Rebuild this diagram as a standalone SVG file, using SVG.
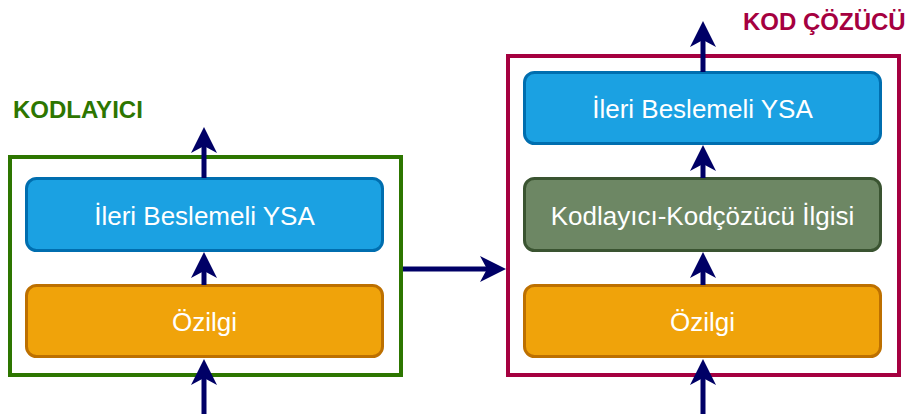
<svg xmlns="http://www.w3.org/2000/svg" width="911" height="414" viewBox="0 0 911 414">
  <style>
    .frame { fill: #ffffff; stroke-width: 4; }
    .box { stroke-width: 3; }
    .ffn { fill: #1BA1E2; stroke: #006EAF; }
    .att { fill: #F0A30A; stroke: #BD7000; }
    .xatt { fill: #6D8764; stroke: #3A5431; }
    .lbl { font-family: "Liberation Sans", Arial, sans-serif; font-size: 26px; fill: #ffffff; text-anchor: middle; }
    .title { font-family: "Liberation Sans", Arial, sans-serif; font-size: 24px; font-weight: bold; }
    .link { stroke: #000066; stroke-width: 5; fill: none; marker-end: url(#head); }
  </style>
  <defs>
    <marker id="head" markerUnits="userSpaceOnUse" markerWidth="26" markerHeight="26" viewBox="0 0 26 26" refX="10" refY="13" orient="auto">
      <path d="M0,0 L26,13 L0,26 L7,13 Z" fill="#000066"/>
    </marker>
  </defs>

  <!-- encoder block -->
  <g id="encoder">
    <rect class="frame" x="10" y="157" width="391" height="218" stroke="#2D7600"/>
    <text class="title" x="13" y="118" fill="#2D7600">KODLAYICI</text>
  </g>
  <g id="enc-ffn">
    <rect class="box ffn" x="26.5" y="178.5" width="356" height="72" rx="10"/>
    <text class="lbl" x="204.5" y="225">İleri Beslemeli YSA</text>
  </g>
  <g id="enc-attn">
    <rect class="box att" x="26.5" y="285.5" width="356" height="71" rx="10"/>
    <text class="lbl" x="204.5" y="331">Özilgi</text>
  </g>

  <!-- decoder block -->
  <g id="decoder">
    <rect class="frame" x="508" y="56" width="391" height="319" stroke="#A50040"/>
    <text class="title" x="743" y="30" fill="#A50040">KOD ÇÖZÜCÜ</text>
  </g>
  <g id="dec-ffn">
    <rect class="box ffn" x="524.5" y="72.5" width="356" height="71" rx="10"/>
    <text class="lbl" x="702.5" y="118">İleri Beslemeli YSA</text>
  </g>
  <g id="dec-cross">
    <rect class="box xatt" x="524.5" y="178.5" width="356" height="72" rx="10"/>
    <text class="lbl" x="702.5" y="225">Kodlayıcı-Kodçözücü İlgisi</text>
  </g>
  <g id="dec-attn">
    <rect class="box att" x="524.5" y="285.5" width="356" height="71" rx="10"/>
    <text class="lbl" x="702.5" y="331">Özilgi</text>
  </g>

  <!-- connectors -->
  <g id="connectors">
    <line class="link" x1="204" y1="414" x2="204" y2="375"/>
    <line class="link" x1="204" y1="285" x2="204" y2="268"/>
    <line class="link" x1="204" y1="178" x2="204" y2="143"/>
    <line class="link" x1="403" y1="269" x2="490" y2="269"/>
    <line class="link" x1="703" y1="414" x2="703" y2="375"/>
    <line class="link" x1="703" y1="285" x2="703" y2="268"/>
    <line class="link" x1="703" y1="178" x2="703" y2="161"/>
    <line class="link" x1="703" y1="72" x2="703" y2="37"/>
  </g>
</svg>
